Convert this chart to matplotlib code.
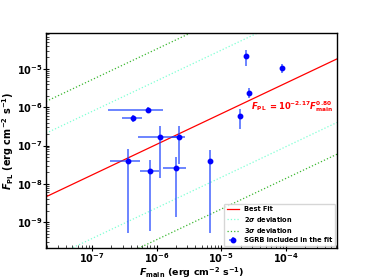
import numpy as np
import matplotlib
matplotlib.use("Agg")
import matplotlib.pyplot as plt

plt.rcParams['mathtext.fontset'] = 'custom'
plt.rcParams['mathtext.rm'] = 'DejaVu Sans:bold'
plt.rcParams['mathtext.bf'] = 'DejaVu Sans:bold'
plt.rcParams['mathtext.it'] = 'DejaVu Sans:italic:bold'
plt.rcParams['mathtext.sf'] = 'DejaVu Sans:bold'

# data: SGRB points
f_main = [7.26e-7, 4.35e-7, 1.12e-6, 2.21e-6, 3.64e-7, 7.87e-7, 1.97e-6, 6.84e-6, 2.40e-5, 8.85e-5, 2.70e-5, 1.94e-5]
f_main_lo = [1.79e-7, 2.88e-7, 5.20e-7, 1.72e-6, 1.90e-7, 5.52e-7, 1.26e-6, 6.6e-6, 2.35e-5, 8.6e-5, 2.65e-5, 1.90e-5]
f_main_hi = [1.26e-6, 5.98e-7, 2.13e-6, 2.79e-6, 5.52e-7, 1.09e-6, 2.91e-6, 7.1e-6, 2.45e-5, 9.1e-5, 2.75e-5, 1.98e-5]
f_pl = [8.45e-7, 5.12e-7, 1.69e-7, 1.69e-7, 3.97e-8, 2.18e-8, 2.52e-8, 3.97e-8, 2.23e-5, 1.04e-5, 2.40e-6, 5.89e-7]
f_pl_lo = [6.92e-7, 4.03e-7, 1.40e-8, 3.40e-8, 5.09e-10, 5.85e-10, 1.36e-9, 5.09e-10, 1.22e-5, 7.71e-6, 1.71e-6, 2.64e-7]
f_pl_hi = [1.03e-6, 6.25e-7, 3.22e-7, 3.22e-7, 7.91e-8, 4.15e-8, 5.06e-8, 7.59e-8, 3.14e-5, 1.33e-5, 3.13e-6, 8.97e-7]

fit_norm = -2.17
fit_slope = 0.80
sigma = 0.83

x_range = [1.95e-8, 6.2e-4]
y_range = [2.1e-10, 8.7e-5]

fig = plt.figure(figsize=(3.74, 2.8), dpi=100)
ax = fig.add_axes([0.123, 0.114, 0.778, 0.768])

xl = np.logspace(np.log10(x_range[0]), np.log10(x_range[1]), 200)
yfit = 10 ** (fit_norm + fit_slope * np.log10(xl))
ax.plot(xl, yfit, color='red', lw=0.9, label='Best Fit', zorder=2)
ax.plot(xl, yfit * 10 ** (2 * sigma), color='aquamarine', ls=':', lw=0.9, label=r'2$\sigma$ deviation')
ax.plot(xl, yfit * 10 ** (-2 * sigma), color='aquamarine', ls=':', lw=0.9)
ax.plot(xl, yfit * 10 ** (3 * sigma), color='#3cb832', ls=':', lw=0.9, label=r'3$\sigma$ deviation')
ax.plot(xl, yfit * 10 ** (-3 * sigma), color='#3cb832', ls=':', lw=0.9)

x = np.array(f_main); y = np.array(f_pl)
xerr = [x - np.array(f_main_lo), np.array(f_main_hi) - x]
yerr = [y - np.array(f_pl_lo), np.array(f_pl_hi) - y]
ax.errorbar(x, y, xerr=xerr, yerr=yerr, fmt='o', color='blue', ecolor=(0.1, 0.25, 1.0, 0.75),
            elinewidth=1.2, markersize=3.2, capsize=0, label='SGRB included in the fit', zorder=3)

ax.set_xscale('log'); ax.set_yscale('log')
ax.set_xlim(*x_range); ax.set_ylim(*y_range)

ax.text(2.87e-5, 1.07e-6, r'$F_{\rm PL}$ $= 10^{-2.17}F_{\rm main}^{0.80}$',
        color='red', fontsize=6, va='center', ha='left')

ax.set_xlabel(r'$F_{\rm main}$ (erg cm$^{-2}$ s$^{-1}$)', fontsize=6.8, fontweight='bold')
ax.set_ylabel(r'$F_{\rm PL}$ (erg cm$^{-2}$ s$^{-1}$)', fontsize=7, fontweight='bold')
ax.xaxis.set_label_coords(0.5, -0.113)
ax.yaxis.set_label_coords(-0.13, 0.5)
ax.xaxis.label.set_va('center')
ax.yaxis.label.set_va('center')

ax.tick_params(which='major', direction='inout', length=4, width=0.8, labelsize=7, pad=0.3)
ax.tick_params(which='minor', direction='in', length=2, width=0.5)
for lab in ax.get_xticklabels() + ax.get_yticklabels():
    lab.set_fontweight('bold')
for s in ax.spines.values():
    s.set_linewidth(1.0)

leg = ax.legend(loc='lower right', prop={'weight': 'bold', 'size': 4.8}, frameon=True,
                borderaxespad=0.3, handlelength=1.8, handletextpad=0.8, labelspacing=0.35, borderpad=0.4)

fig.savefig('out.png', dpi=100)
